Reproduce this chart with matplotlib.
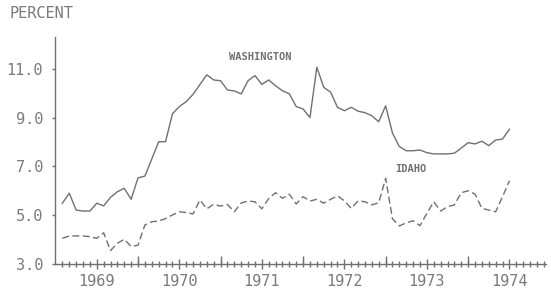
import numpy as np
import matplotlib
matplotlib.use("Agg")
import matplotlib.pyplot as plt
from matplotlib.ticker import FixedLocator, NullFormatter

# monthly unemployment rates, Feb 1969 .. Jul 1974 (x = months after Jan 1969)
washington = [5.49, 5.90, 5.21, 5.17, 5.17, 5.49, 5.38, 5.73, 5.96, 6.10, 5.65, 6.53,
              6.60, 7.30, 8.01, 8.01, 9.15, 9.45, 9.65, 9.95, 10.35, 10.75, 10.54, 10.51,
              10.13, 10.09, 9.97, 10.51, 10.72, 10.36, 10.54, 10.30, 10.10, 9.97, 9.45, 9.35,
              9.00, 11.06, 10.24, 10.04, 9.42, 9.28, 9.42, 9.26, 9.20, 9.07, 8.83, 9.48,
              8.36, 7.81, 7.64, 7.64, 7.67, 7.56, 7.51, 7.51, 7.51, 7.54, 7.75, 7.97,
              7.92, 8.03, 7.85, 8.08, 8.12, 8.52]
idaho = [4.05, 4.15, 4.15, 4.15, 4.12, 4.05, 4.28, 3.55, 3.85, 4.01, 3.72, 3.77,
         4.60, 4.73, 4.76, 4.86, 5.01, 5.14, 5.11, 5.05, 5.62, 5.26, 5.45, 5.37,
         5.44, 5.14, 5.50, 5.58, 5.55, 5.26, 5.68, 5.92, 5.69, 5.86, 5.46, 5.76,
         5.58, 5.65, 5.49, 5.65, 5.79, 5.59, 5.28, 5.59, 5.55, 5.42, 5.51, 6.51,
         4.85, 4.56, 4.69, 4.77, 4.57, 5.08, 5.55, 5.17, 5.35, 5.42, 5.92, 6.00,
         5.86, 5.28, 5.21, 5.14, 5.76, 6.41]
months = np.arange(1, len(washington) + 1)

years = ["1969", "1970", "1971", "1972", "1973", "1974"]
yticks = [3.0, 5.0, 7.0, 9.0, 11.0]

grey = "#707070"
txtgrey = "#7a7a7a"
mono = "DejaVu Sans Mono"

fig = plt.figure(figsize=(5.51, 2.89), dpi=100)
ax = fig.add_axes([0.1007, 0.0865, 0.89, 0.7855])

ax.plot(months, washington, color=grey, lw=1.0)
ax.plot(months, idaho, color=grey, lw=1.0, dashes=(5, 2.5))

ax.set_xlim(0, 71.3)
ax.set_ylim(3, 12.3)

for s in ["top", "right"]:
    ax.spines[s].set_visible(False)
for s in ["left", "bottom"]:
    ax.spines[s].set_color(grey)
    ax.spines[s].set_linewidth(1.0)

# y axis
ax.set_yticks(yticks)
ax.set_yticklabels(["%.1f" % v for v in yticks], fontsize=11, family=mono, color=txtgrey)
ax.tick_params(axis="y", direction="out", length=2, width=1, color=grey, pad=7)

# x axis: labels at mid-year, ticks every month
mid = [6 + 12 * i for i in range(len(years))]
ax.set_xticks(mid)
ax.set_xticklabels(years, fontsize=11, family=mono, color=txtgrey)
ax.xaxis.set_minor_locator(FixedLocator([m for m in range(1, 72) if m not in mid]))
ax.tick_params(axis="x", which="major", direction="inout", length=6.5, width=1, color=grey, pad=4)
ax.tick_params(axis="x", which="minor", direction="inout", length=4.3, width=1, color=grey)

# year boundary ticks
sec = ax.secondary_xaxis("bottom")
sec.set_xticks([12 * i for i in range(1, len(years))])
sec.xaxis.set_major_formatter(NullFormatter())
sec.tick_params(direction="in", length=6, width=1, color=grey)
sec.spines["bottom"].set_visible(False)

ax.text(29.7, 11.48, "WASHINGTON", fontsize=7.5, family=mono, weight="bold",
        color=grey, ha="center", va="center")
ax.text(51.7, 6.89, "IDAHO", fontsize=7.5, family=mono, weight="bold",
        color=grey, ha="center", va="center")

fig.text(0.018, 0.953, "PERCENT", fontsize=11, family=mono, color=txtgrey,
         ha="left", va="center")

fig.savefig("out.png", dpi=100)
